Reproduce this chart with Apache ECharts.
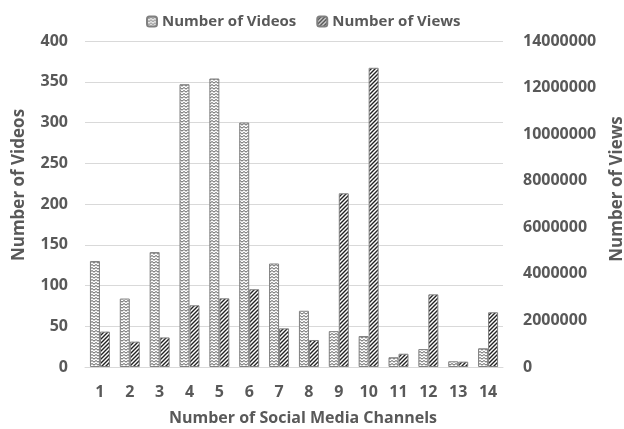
<!DOCTYPE html>
<html>
<head>
<meta charset="utf-8">
<script src="https://cdn.jsdelivr.net/npm/echarts@6/dist/echarts.min.js"></script>
<style>html,body{margin:0;padding:0;background:#fff}#c{width:624px;height:429px}</style>
</head>
<body>
<div id="c"></div>
<script>
const categories = ['1','2','3','4','5','6','7','8','9','10','11','12','13','14'];
const videos = [130, 84, 141, 347, 354, 300, 127, 69, 44, 38, 12, 22, 7, 23];
const views = [1520000, 1090000, 1270000, 2650000, 2950000, 3340000, 1660000, 1160000, 7460000, 12850000, 570000, 3120000, 230000, 2350000];
const videoTicks = {min: 0, max: 400, interval: 50};
const viewTicks = {min: 0, max: 14000000, interval: 2000000};

function zigzag() {
  const c = document.createElement('canvas');
  c.width = 4; c.height = 3;
  const g = c.getContext('2d');
  g.fillStyle = '#fff'; g.fillRect(0, 0, 4, 3);
  g.strokeStyle = '#444'; g.lineWidth = 0.9;
  g.beginPath(); g.moveTo(0, 0.5); g.lineTo(2, 2.2); g.lineTo(4, 0.5); g.stroke();
  return c;
}
function stripes() {
  const c = document.createElement('canvas');
  c.width = 4; c.height = 4;
  const g = c.getContext('2d');
  g.fillStyle = '#fff'; g.fillRect(0, 0, 4, 4);
  g.strokeStyle = '#222'; g.lineWidth = 1.4;
  g.beginPath();
  g.moveTo(-1, 5); g.lineTo(5, -1);
  g.moveTo(-1, 1); g.lineTo(1, -1);
  g.moveTo(3, 5); g.lineTo(5, 3);
  g.stroke();
  return c;
}

const txt = '#595959';
const font = 'Open Sans';
const chart = echarts.init(document.getElementById('c'));
chart.setOption({
  animation: false,
  legend: {
    top: 9, left: 141, itemWidth: 10, itemHeight: 10, itemGap: 20,
    textStyle: {color: txt, fontFamily: font, fontWeight: 'bold', fontSize: 15}
  },
  grid: {left: 85, right: 121, top: 41, bottom: 62, containLabel: false, outerBoundsMode: 'none'},
  xAxis: {
    type: 'category', data: categories,
    name: 'Number of Social Media Channels', nameLocation: 'middle', nameGap: 43,
    nameTextStyle: {color: txt, fontFamily: font, fontWeight: 'bold', fontSize: 16, padding: [0, 0, 0, 18]},
    axisLine: {lineStyle: {color: '#d9d9d9'}}, axisTick: {show: false},
    axisLabel: {color: txt, fontFamily: font, fontWeight: 'bold', fontSize: 16, margin: 17}
  },
  yAxis: [{
    type: 'value', min: videoTicks.min, max: videoTicks.max, interval: videoTicks.interval,
    name: 'Number of Videos', nameLocation: 'middle', nameGap: 57, nameRotate: 90,
    nameTextStyle: {color: txt, fontFamily: font, fontWeight: 'bold', fontSize: 17, padding: [0, 0, 0, 38]},
    axisLine: {show: false}, axisTick: {show: false},
    splitLine: {lineStyle: {color: '#d9d9d9'}},
    axisLabel: {color: txt, fontFamily: font, fontWeight: 'bold', fontSize: 16, margin: 17}
  }, {
    type: 'value', min: viewTicks.min, max: viewTicks.max, interval: viewTicks.interval,
    name: 'Number of Views', nameLocation: 'middle', nameGap: 106, nameRotate: 90,
    nameTextStyle: {color: txt, fontFamily: font, fontWeight: 'bold', fontSize: 17, padding: [0, 0, 0, 30]},
    axisLine: {show: false}, axisTick: {show: false},
    splitLine: {show: false},
    axisLabel: {color: txt, fontFamily: font, fontWeight: 'bold', fontSize: 16, margin: 20,
      formatter: v => String(v)}
  }],
  series: [{
    name: 'Number of Videos', type: 'bar', data: videos, yAxisIndex: 0,
    barWidth: 10, barGap: '0%',
    itemStyle: {color: {image: zigzag(), repeat: 'repeat'}, borderColor: '#808080', borderWidth: 1}
  }, {
    name: 'Number of Views', type: 'bar', data: views, yAxisIndex: 1,
    barWidth: 10, barGap: '0%',
    itemStyle: {color: {image: stripes(), repeat: 'repeat'}, borderColor: '#808080', borderWidth: 1}
  }]
});
</script>
</body>
</html>
